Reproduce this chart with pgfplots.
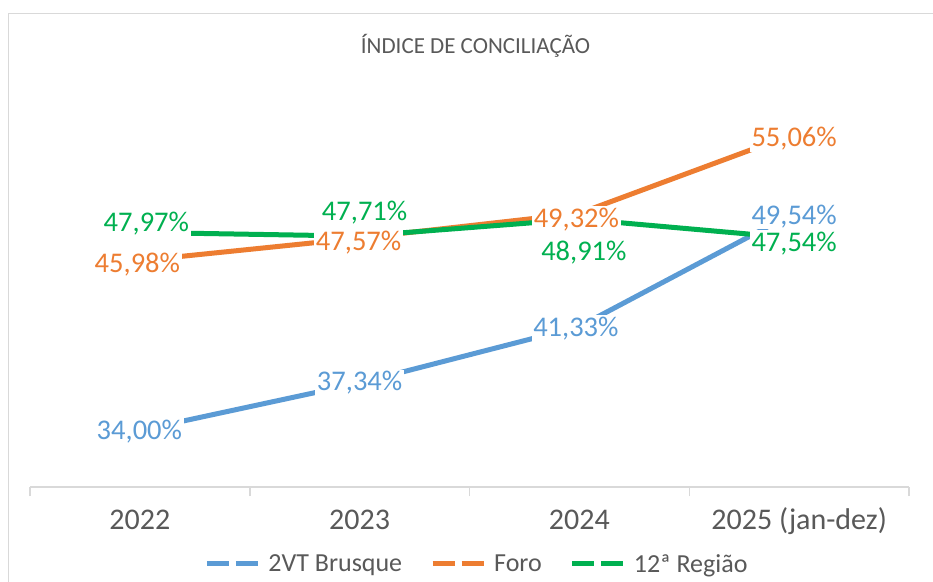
\documentclass[border=0pt]{standalone}
\usepackage{fontspec}
\setmainfont{Carlito}
\usepackage{pgfplots}
\usepackage{pgfplotstable}
\pgfplotsset{compat=1.18}

\definecolor{cBlue}{HTML}{5B9BD5}
\definecolor{cOrange}{HTML}{ED7D31}
\definecolor{cGreen}{HTML}{00B050}
\definecolor{cText}{HTML}{595959}
\definecolor{cAxis}{HTML}{D9D9D9}

% x = category index, y = value, dx/dy = label offset (pt)
\pgfplotstableread{
x y dx dy
0 34.00 -0.5 -1
1 37.34 0 0
2 41.33 -3.5 -2
3 49.54 -5 -6
}\brusque
\pgfplotstableread{
x y dx dy
0 45.98 -2.5 -3.5
1 47.57 -1 -5
2 49.32 -3 -6
3 55.06 -5 -7
}\foro
\pgfplotstableread{
x y dx dy
0 47.97 6.5 9
1 47.71 5 24
2 48.91 4.5 -33
3 47.54 -5 -5
}\regiao

\pgfplotsset{
  lbl/.style={draw=none, mark=none, forget plot,
    point meta=y,
    visualization depends on={\thisrow{dx}\as\dx},
    visualization depends on={\thisrow{dy}\as\dy},
    nodes near coords={\pgfmathprintnumber[assume math mode=true,fixed,fixed zerofill,precision=2,use comma]{\pgfplotspointmeta}\%},
    every node near coord/.append style={anchor=center, xshift=\dx pt, yshift=\dy pt,
      fill=white, inner sep=1.5pt, text=#1,
      font=\fontsize{28.5}{32}\selectfont}},
}

\begin{document}
\begin{tikzpicture}[x=1pt,y=1pt]
\useasboundingbox (0,0) rectangle (933,581);
\fill[white] (0,0) rectangle (933,581);
\draw[cAxis, line width=1.5pt] (8.5,-20) -- (8.5,567.5) -- (960,567.5);
\node[anchor=base, text=cText, font=\fontsize{23}{27}\selectfont] at (475.5,527) {ÍNDICE DE CONCILIAÇÃO};

\begin{axis}[
  at={(30pt,94pt)}, anchor=south west,
  scale only axis, width=879pt, height=425pt,
  xmin=-0.5, xmax=3.5, ymin=30, ymax=60,
  clip=false,
  axis x line=bottom, axis y line=none,
  x axis line style={-, draw=cAxis, line width=1.5pt},
  xtick={0,1,2,3},
  xticklabels={2022,2023,2024,2025 (jan-dez)},
  major x tick style={draw=none},
  xticklabel style={anchor=base, yshift=-40pt, text=cText, font=\fontsize{30}{34}\selectfont},
  extra x ticks={-0.5,0.5,1.5,2.5,3.5},
  extra x tick labels={},
  extra x tick style={major tick length=9pt, tick align=outside,
    major x tick style={draw=cAxis, line width=1.5pt}},
  legend columns=3,
  legend style={at={(0.5085,-0.181)}, anchor=center, draw=none, fill=none,
    text=cText, font=\fontsize{26}{30}\selectfont,
    nodes={inner sep=2pt},
    /tikz/every even column/.append style={column sep=26pt}},
  legend image code/.code={\draw[#1, dash pattern=on 22pt off 7pt] (0pt,0pt) -- (57pt,0pt);},
]
\addplot[cBlue, line width=5pt, mark=none] table[x=x,y=y] {\brusque};
\addplot[cOrange, line width=5pt, mark=none] table[x=x,y=y] {\foro};
\addplot[cGreen, line width=5pt, mark=none] table[x=x,y=y] {\regiao};
\legend{2VT Brusque,Foro,12ª Região}

\addplot[lbl=cBlue] table[x=x,y=y] {\brusque};
\addplot[lbl=cOrange] table[x=x,y=y] {\foro};
\addplot[lbl=cGreen] table[x=x,y=y] {\regiao};
\end{axis}
\end{tikzpicture}
\end{document}
